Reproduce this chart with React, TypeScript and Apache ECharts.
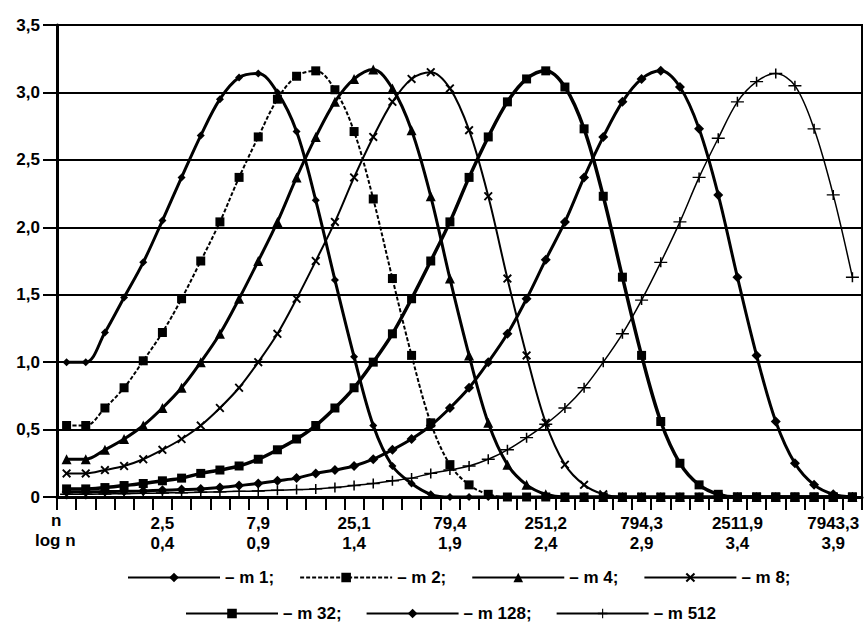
import React, { useEffect, useRef } from 'react';
import * as echarts from 'echarts';

// category index i corresponds to log n = (i - 1) / 10
const categoryCount = 42;
const labelIndices = [5, 10, 15, 20, 25, 30, 35, 40];
const nLabels = ['2,5', '7,9', '25,1', '79,4', '251,2', '794,3', '2511,9', '7943,3'];
const logLabels = ['0,4', '0,9', '1,4', '1,9', '2,4', '2,9', '3,4', '3,9'];

const seriesNames = ['m 1', 'm 2', 'm 4', 'm 8', 'm 32', 'm 128', 'm 512'];

const m1 = [1.0, 1.0, 1.22, 1.48, 1.74, 2.05, 2.37, 2.68, 2.95, 3.11, 3.14, 3.0, 2.71, 2.2, 1.61, 1.04, 0.53, 0.23, 0.1, 0.02,
  0, 0, 0, 0, 0, 0, 0, 0, 0, 0, 0, 0, 0, 0, 0, 0, 0, 0, 0, 0, 0, 0];
const m2 = [0.53, 0.53, 0.66, 0.81, 1.01, 1.22, 1.47, 1.75, 2.04, 2.37, 2.67, 2.95, 3.12, 3.16, 3.02, 2.71, 2.21, 1.62, 1.05, 0.55, 0.24, 0.09, 0.02,
  0, 0, 0, 0, 0, 0, 0, 0, 0, 0, 0, 0, 0, 0, 0, 0, 0, 0, 0];
const m4 = [0.28, 0.28, 0.35, 0.43, 0.53, 0.66, 0.81, 1.0, 1.21, 1.47, 1.75, 2.04, 2.37, 2.67, 2.93, 3.1, 3.17, 3.03, 2.72, 2.23, 1.62, 1.05, 0.55, 0.24, 0.09, 0.02,
  0, 0, 0, 0, 0, 0, 0, 0, 0, 0, 0, 0, 0, 0, 0, 0];
const m8 = [0.175, 0.175, 0.2, 0.23, 0.28, 0.35, 0.43, 0.53, 0.66, 0.81, 1.0, 1.21, 1.47, 1.75, 2.04, 2.37, 2.67, 2.93, 3.1, 3.15, 3.03, 2.72, 2.23, 1.62, 1.05, 0.55, 0.24, 0.09, 0.02,
  0, 0, 0, 0, 0, 0, 0, 0, 0, 0, 0, 0, 0];
const m32 = [0.06, 0.06, 0.07, 0.085, 0.1, 0.12, 0.14, 0.175, 0.2, 0.23, 0.28, 0.35, 0.43, 0.53, 0.66, 0.81, 1.0, 1.21, 1.47, 1.75, 2.04, 2.37, 2.67, 2.93, 3.1, 3.16, 3.04, 2.73, 2.23, 1.63, 1.05, 0.56, 0.25, 0.09, 0.02,
  0, 0, 0, 0, 0, 0, 0];
const m128 = [0.038, 0.038, 0.04, 0.042, 0.045, 0.05, 0.055, 0.06, 0.07, 0.085, 0.1, 0.12, 0.14, 0.175, 0.2, 0.23, 0.28, 0.35, 0.43, 0.53,
  0.66, 0.81, 1.0, 1.21, 1.47, 1.76, 2.04, 2.37, 2.67, 2.93, 3.1, 3.16, 3.04, 2.73, 2.24, 1.63, 1.05, 0.56, 0.25, 0.09, 0.02, 0];
const m512 = [0.02, 0.02, 0.022, 0.025, 0.027, 0.03, 0.032, 0.035, 0.038, 0.042, 0.045, 0.05, 0.055, 0.06, 0.07, 0.085, 0.1, 0.12, 0.14, 0.175,
  0.2, 0.23, 0.28, 0.35, 0.44, 0.54, 0.66, 0.81, 1.0, 1.21, 1.46, 1.74, 2.04, 2.37, 2.66, 2.93, 3.08, 3.14, 3.05, 2.73, 2.24, 1.63];

const FONT = '"Liberation Sans", Arial, sans-serif';
const X_SYMBOL = 'path://M0,1.5 L1.5,0 L5,3.5 L8.5,0 L10,1.5 L6.5,5 L10,8.5 L8.5,10 L5,6.5 L1.5,10 L0,8.5 L3.5,5 Z';
const PLUS_SYMBOL = 'path://M5.3,0 H6.7 V4.3 H12 V5.7 H6.7 V10 H5.3 V5.7 H0 V4.3 H5.3 Z';

export default function App() {
  const ref = useRef<HTMLDivElement>(null);
  useEffect(() => {
    if (!ref.current) return;
    const chart = echarts.init(ref.current, undefined, { renderer: 'svg' });
    const categories = Array.from({ length: categoryCount }, (_, i) => String(i));
    const labelFor = (idx: number) => {
      const p = labelIndices.indexOf(idx);
      return p >= 0 ? nLabels[p] + '\n' + logLabels[p] : '';
    };
    const dataSets = [m1, m2, m4, m8, m32, m128, m512];
    const styles = [
      { symbol: 'diamond', symbolSize: 8, width: 3, type: 'solid' },
      { symbol: 'rect', symbolSize: 9, width: 2, type: [4, 2] },
      { symbol: 'triangle', symbolSize: 10, width: 3, type: 'solid' },
      { symbol: X_SYMBOL, symbolSize: 9, width: 2, type: 'solid' },
      { symbol: 'rect', symbolSize: 9, width: 3.5, type: 'solid' },
      { symbol: 'diamond', symbolSize: 10, width: 3, type: 'solid' },
      { symbol: PLUS_SYMBOL, symbolSize: [13, 10], width: 1.5, type: 'solid' },
    ];
    const series = dataSets.map((d, k) => ({
      name: seriesNames[k],
      type: 'line',
      data: d,
      smooth: 0.35,
      symbol: styles[k].symbol,
      symbolSize: styles[k].symbolSize,
      showAllSymbol: true,
      itemStyle: { color: '#000', borderWidth: 0 },
      lineStyle: { color: '#000', width: styles[k].width, type: styles[k].type },
      z: 3,
    }));
    const legendText = {
      fontFamily: FONT, fontWeight: 'bold', fontSize: 17, color: '#000',
    };
    const labelFont = { fontFamily: FONT, fontWeight: 'bold', fontSize: 17, fill: '#000' };
    chart.setOption({
      animation: false,
      backgroundColor: '#fff',
      grid: { left: 57, right: 5, top: 25, bottom: 127, show: true, borderColor: '#000', borderWidth: 2, backgroundColor: 'transparent' },
      xAxis: {
        type: 'category',
        data: categories,
        boundaryGap: true,
        axisLine: { lineStyle: { color: '#000', width: 3 } },
        axisTick: { show: true, interval: 0, length: 13, lineStyle: { color: '#000', width: 2 } },
        axisLabel: {
          interval: 0, margin: 16, color: '#000', fontFamily: FONT, fontWeight: 'bold', fontSize: 17, lineHeight: 20,
          formatter: (_v: string, idx: number) => labelFor(idx),
        },
        splitLine: { show: false },
      },
      yAxis: {
        type: 'value',
        min: 0, max: 3.5, interval: 0.5,
        axisLine: { show: true, lineStyle: { color: '#000', width: 3 } },
        axisTick: { show: true, length: 14, lineStyle: { color: '#000', width: 2 } },
        axisLabel: {
          margin: 17, color: '#000', fontFamily: FONT, fontWeight: 'bold', fontSize: 17,
          formatter: (v: number) => (v === 0 ? '0' : v.toFixed(1).replace('.', ',')),
        },
        splitLine: { show: true, lineStyle: { color: '#000', width: 2 } },
      },
      legend: [
        {
          data: seriesNames.slice(0, 4), top: 564, left: 122, itemWidth: 92, itemHeight: 12, itemGap: 25,
          textStyle: legendText, formatter: (n: string) => '– ' + n + ';',
        },
        {
          data: seriesNames.slice(4), top: 600, left: 180, itemWidth: 92, itemHeight: 12, itemGap: 24,
          textStyle: legendText, formatter: (n: string) => (n === 'm 512' ? '– ' + n : '– ' + n + ';'),
        },
      ],
      graphic: [
        { type: 'text', left: 51, top: 512, style: { text: 'n', ...labelFont } },
        { type: 'text', left: 35, top: 532, style: { text: 'log n', ...labelFont } },
      ],
      series,
    });
    return () => chart.dispose();
  }, []);
  return <div ref={ref} style={{ position: 'fixed', left: 0, top: 0, width: 867, height: 624 }} />;
}
